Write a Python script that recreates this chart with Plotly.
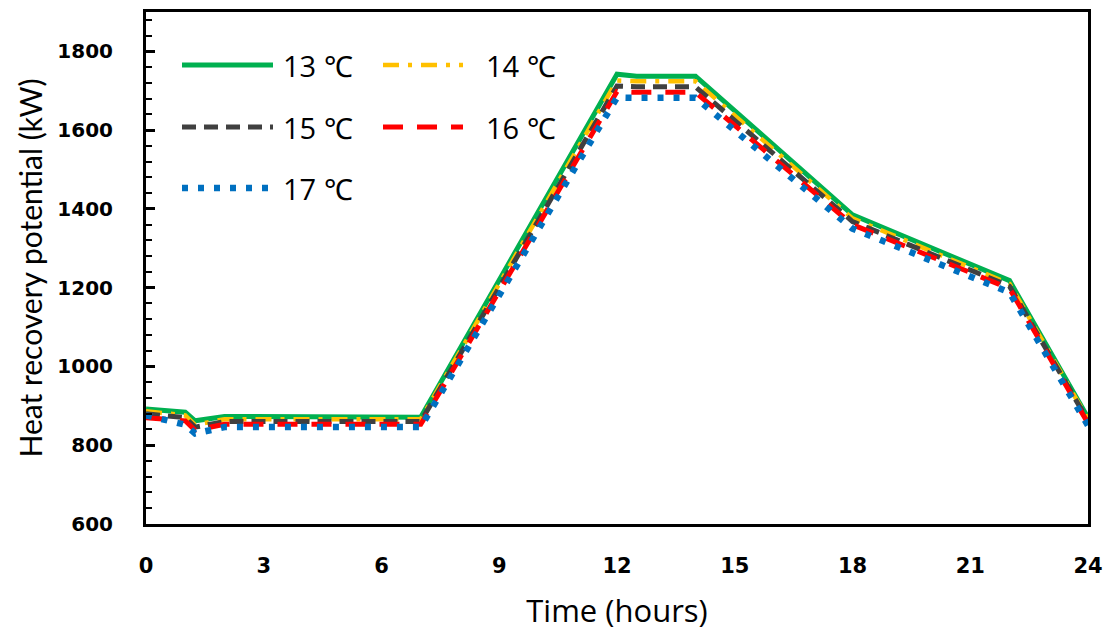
import plotly.graph_objects as go

# ---- data ----
hours = [0, 1, 1.25, 2, 7, 12, 12.5, 14, 18, 22, 24]
t13 = [892, 884, 862, 873, 871, 1742, 1737, 1737, 1385, 1218, 870]
t14 = [886, 876, 852, 866, 866, 1726, 1724, 1724, 1376, 1210, 866]
t15 = [880, 870, 846, 860, 860, 1712, 1710, 1710, 1368, 1204, 862]
t16 = [870, 862, 838, 853, 853, 1698, 1696, 1696, 1360, 1198, 856]
t17 = [876, 852, 830, 846, 846, 1683, 1682, 1682, 1350, 1188, 850]
labels = ["13 ℃", "14 ℃", "15 ℃", "16 ℃", "17 ℃"]
x_ticks = [0, 3, 6, 9, 12, 15, 18, 21, 24]
y_ticks = [600, 800, 1000, 1200, 1400, 1600, 1800]

styles = [
    dict(color="#00B050", width=5, dash="solid"),
    dict(color="#FFC000", width=4.5, dash="16px,9px,4px,9px"),
    dict(color="#404040", width=5, dash="14px,8px"),
    dict(color="#FF0000", width=5, dash="20px,14px"),
    dict(color="#0070C0", width=6.5, dash="6px,10px"),
]
series = [t13, t14, t15, t16, t17]

fig = go.Figure()
for lab, ys, st in zip(labels, series, styles):
    fig.add_trace(go.Scatter(x=hours, y=ys, mode="lines", name=lab,
                             line=st, showlegend=False))

# ---- manual legend (long line samples like the reference) ----
L, R, T, B = 146, 1088, 12, 524
def px(x):
    return (x - L) / (R - L)
def py(y):
    return (B - y) / (B - T)

legend_pos = [
    (182, 273, 281, 65),
    (383, 463, 484, 65),
    (182, 273, 281, 127),
    (383, 463, 484, 127),
    (182, 273, 281, 188),
]
for lab, st, (x0, x1, xt, yy) in zip(labels, styles, legend_pos):
    fig.add_shape(type="line", xref="paper", yref="paper",
                  x0=px(x0), x1=px(x1), y0=py(yy), y1=py(yy),
                  line=dict(color=st["color"], width=st["width"], dash=st["dash"]))
    fig.add_annotation(xref="paper", yref="paper", x=px(xt), y=py(yy),
                       text=lab, showarrow=False, xanchor="left", yanchor="middle",
                       font=dict(family="Open Sans", size=29, color="black"))

fig.update_layout(
    width=1107, height=637,
    margin=dict(l=L, r=1107 - R, t=T, b=637 - B, autoexpand=False),
    plot_bgcolor="white", paper_bgcolor="white",
    showlegend=False,
)
fig.update_xaxes(
    range=[0, 24], tickvals=x_ticks, ticktext=[str(v) for v in x_ticks],
    showline=True, linecolor="black", linewidth=3, mirror=True,
    showgrid=False, zeroline=False, ticks="", automargin=False,
    tickfont=dict(family="DejaVu Sans", size=21, color="black", weight="bold"),
    ticklabelstandoff=21,
    title=dict(text="Time (hours)", font=dict(family="Open Sans", size=31, color="black"), standoff=24),
)
fig.update_yaxes(
    range=[600, 1900], tickvals=y_ticks, ticktext=[str(v) for v in y_ticks],
    showline=True, linecolor="black", linewidth=3, mirror=True,
    showgrid=False, zeroline=False, automargin=False,
    ticks="inside", ticklen=9, tickwidth=2.5, tickcolor="black",
    minor=dict(ticks="inside", ticklen=6, tickwidth=2, tickcolor="black", dtick=40, tick0=600),
    tickfont=dict(family="DejaVu Sans", size=20, color="black", weight="bold"),
    ticklabelstandoff=26,
    title=dict(text="Heat recovery potential (kW)", font=dict(family="Lato", size=30, color="black"), standoff=6),
)

fig.write_html("out.html")
